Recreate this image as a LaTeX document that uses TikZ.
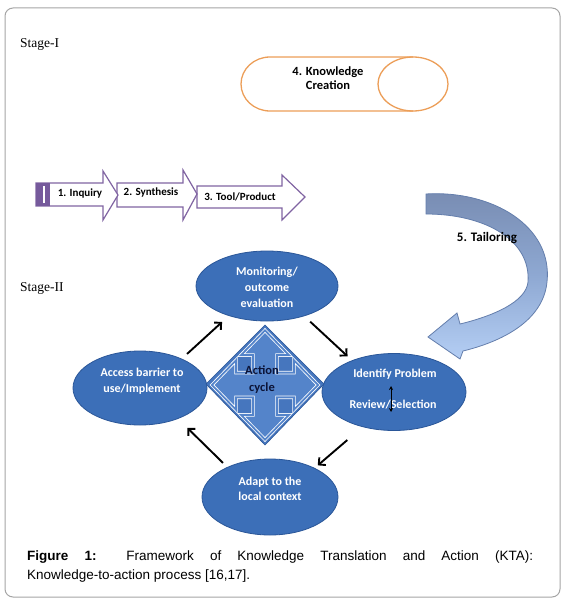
\documentclass[tikz,border=0pt]{standalone}
\usepackage{fontspec}
\setmainfont{Liberation Serif}
\newfontfamily\calfont{Carlito}
\newfontfamily\capfont{Liberation Sans}
\usetikzlibrary{arrows.meta,shapes.geometric}
\definecolor{framecol}{RGB}{165,165,165}
\definecolor{ellblue}{RGB}{60,111,184}
\definecolor{ellborder}{RGB}{42,86,152}
\definecolor{purp}{RGB}{128,100,162}
\definecolor{purpfill}{RGB}{118,90,156}
\definecolor{orng}{RGB}{236,158,88}
\definecolor{diamfill}{RGB}{70,118,190}
\definecolor{quadfill}{RGB}{84,132,202}
\definecolor{navy}{RGB}{12,20,55}
\definecolor{tailtop}{RGB}{120,140,178}
\definecolor{tailmid}{RGB}{142,168,210}
\definecolor{tailbot}{RGB}{180,206,244}
\definecolor{taildraw}{RGB}{100,126,172}
\tikzset{
  stageell/.style={ellipse, fill=ellblue, draw=ellborder, line width=0.8pt, inner sep=0pt},
  elltext/.style={text=white, font=\calfont\bfseries\fontsize{12}{16}\selectfont, align=center, inner sep=0pt},
  chainarrow/.style={fill=white, draw=purp, line width=1.2pt, line join=miter},
  chaintext/.style={font=\calfont\bfseries\fontsize{11}{13}\selectfont, inner sep=0pt},
  cyc/.style={line width=1.9pt, -{Straight Barb[length=5pt,width=10pt]}},
  stagelabel/.style={font=\fontsize{13.5}{16}\selectfont, anchor=west, inner sep=0pt},
  tailshape/.style={top color=tailtop, bottom color=tailbot, middle color=tailmid, draw=taildraw, line width=0.8pt}
}
\begin{document}
\begin{tikzpicture}[x=1pt,y=-1pt]
\useasboundingbox (0,0) rectangle (565,602);
% frame
\draw[framecol, line width=1pt, rounded corners=8pt] (5,8) rectangle (560,597);

% Stage labels
\node[stagelabel] (s1) at (20,44) {Stage-I};
\node[stagelabel] (s2) at (20,288) {Stage-II};

% Knowledge creation cylinder
\draw[orng, line width=1.3pt, fill=white] (413,57) -- (270,57) arc[start angle=90, end angle=270, x radius=29pt, y radius=27pt] -- (413,111);
\draw[orng, line width=1.3pt] (413,84) ellipse [x radius=35pt, y radius=27pt];
\node[font=\calfont\bfseries\fontsize{12.5}{14.5}\selectfont, align=center, inner sep=0pt] (kc) at (328,78) {4. Knowledge\\Creation};

% chain of arrows
\draw[chainarrow] (197,186) -- (282,186) -- (282,175) -- (305,197) -- (282,220) -- (282,208) -- (197,208) -- cycle;
\draw[chainarrow] (117,183) -- (183,183) -- (183,170) -- (197,194) -- (183,220) -- (183,207) -- (117,207) -- cycle;
\draw[chainarrow] (36,183) -- (103,183) -- (103,171) -- (118,195) -- (103,220) -- (103,206) -- (36,206) -- cycle;
\fill[purpfill] (36,183) rectangle (50,206);
\draw[white, line width=1.3pt] (44,186) -- (44,203);
\node[chaintext] (inq) at (80,194) {1. Inquiry};
\node[chaintext] (syn) at (151,193) {2. Synthesis};
\node[chaintext] (tool) at (240,197) {3. Tool/Product};

% tailoring arrow
\draw[tailshape] (426,194) .. controls (492,190) and (553,226) .. (547,282)
  .. controls (543,322) and (500,342) .. (463,351)
  -- (460,359) -- (428,337) -- (457,313) -- (460,324)
  .. controls (493,316) and (526,302) .. (528,282)
  .. controls (531,240) and (485,214) .. (426,214) -- cycle;
\node[font=\calfont\bfseries\fontsize{13}{15}\selectfont, inner sep=0pt] (tl) at (487,238) {5. Tailoring};

% ellipses
\node[stageell, minimum width=142pt, minimum height=70pt] (mon) at (267,286) {};
\node[stageell, minimum width=134pt, minimum height=74pt] (acc) at (140,388) {};
\node[stageell, minimum width=144pt, minimum height=77pt] (idf) at (394,392) {};
\node[stageell, minimum width=136pt, minimum height=76pt] (adp) at (270,497) {};

\node[elltext] (montxt) at (267,287) {Monitoring/\\outcome\\evaluation};
\node[elltext] (acctxt) at (142,381) {Access barrier to\\use/Implement};
\node[elltext] (idftxt) at (395,374) {Identify Problem};
\node[elltext] (revtxt) at (393,405) {Review/Selection};
\node[elltext, font=\calfont\bfseries\fontsize{12}{15}\selectfont] (adptxt) at (270,489) {Adapt to the\\local context};
\coordinate (rvt) at (391,386);
\coordinate (rvb) at (391,412);
\draw[line width=0.9pt, {Stealth[length=4pt,width=4pt]}-{Stealth[length=4pt,width=4pt]}] (rvt) -- (rvb);

% action cycle diamond with quad arrow
\draw[fill=diamfill, draw=ellborder, line width=0.6pt] (265,325) -- (324,384) -- (265,445) -- (206,384) -- cycle;
\begin{scope}[shift={(265,385)}, yscale=1.03]
\draw[fill=quadfill, draw=white, line width=0.8pt, double=quadfill, double distance=1.8pt, line join=miter]
  (0,-53) -- (24,-29) -- (12,-29) -- (12,-12) -- (29,-12) -- (29,-24) -- (53,0)
  -- (29,24) -- (29,12) -- (12,12) -- (12,29) -- (24,29) -- (0,53)
  -- (-24,29) -- (-12,29) -- (-12,12) -- (-29,12) -- (-29,24) -- (-53,0)
  -- (-29,-24) -- (-29,-12) -- (-12,-12) -- (-12,-29) -- (-24,-29) -- cycle;
\end{scope}
\node[font=\calfont\bfseries\fontsize{12.5}{17}\selectfont, text=navy, align=center, inner sep=0pt] (act) at (262,380) {Action\\cycle};

% cycle connectors
\draw[cyc, shorten <=7pt, shorten >=9pt] (acc.35) -- (mon.218);
\draw[cyc, shorten <=8pt, shorten >=6pt] (mon.-39) -- (idf.143);
\draw[cyc, shorten <=20pt, shorten >=4pt] (idf.228) -- (adp.33);
\draw[cyc, shorten <=6pt, shorten >=13pt] (adp.145) -- (acc.-39);

% caption
\node[font=\capfont\fontsize{13.5}{18.5}\selectfont, text width=506pt, align=justify, anchor=north west, inner sep=0pt] (cap) at (27,551)
 {\textbf{Figure 1:} Framework of Knowledge Translation and Action (KTA):\linebreak Knowledge-to-action process [16,17].};
\end{tikzpicture}
\end{document}
